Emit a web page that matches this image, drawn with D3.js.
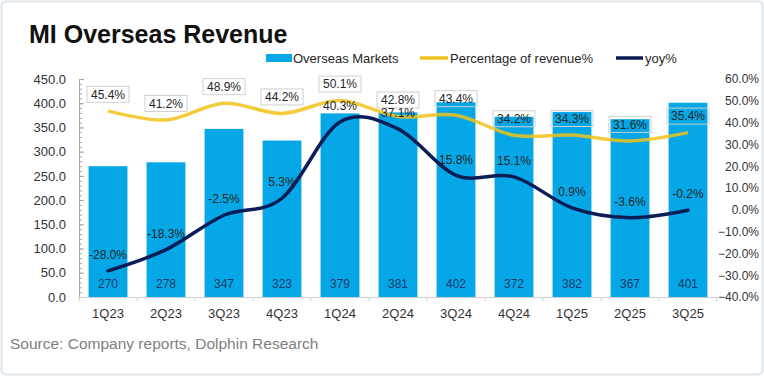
<!DOCTYPE html>
<html>
<head>
<meta charset="utf-8">
<script src="https://cdn.jsdelivr.net/npm/d3@7"></script>
<style>
  html, body { margin: 0; padding: 0; background: #ffffff; }
  svg { display: block; font-family: "Liberation Sans", Arial, sans-serif; }
</style>
</head>
<body>
<svg id="chart" width="764" height="376"></svg>
<script>
const categories = ["1Q23","2Q23","3Q23","4Q23","1Q24","2Q24","3Q24","4Q24","1Q25","2Q25","3Q25"];
const overseasRevenue = [270, 278, 347, 323, 379, 381, 402, 372, 382, 367, 401];
const revenueShare = [45.4, 41.2, 48.9, 44.2, 50.1, 42.8, 43.4, 34.2, 34.3, 31.6, 35.4];
const yoyGrowth = [-28.0, -18.3, -2.5, 5.3, 40.3, 37.1, 15.8, 15.1, 0.9, -3.6, -0.2];
const leftTicks = [0, 50, 100, 150, 200, 250, 300, 350, 400, 450];
const rightTicks = [-40, -30, -20, -10, 0, 10, 20, 30, 40, 50, 60];
const seriesNames = ["Overseas Markets", "Percentage of revenue%", "yoy%"];

const colors = { bar: "#05a7e6", share: "#f1c21b", yoy: "#0b1d57", text: "#262626", barText: "#1c3a6c", axis: "#bfbfbf", tick: "#333333" };

const svg = d3.select("#chart");
const W = 764, H = 376;
const plot = { left: 79, right: 717, top: 79, bottom: 297 };

// frame
svg.append("rect").attr("x", 1.5).attr("y", 1.5).attr("width", W - 3).attr("height", H - 3)
  .attr("rx", 4).attr("fill", "#ffffff").attr("stroke", "#dfe6eb").attr("stroke-width", 2);

const x = d3.scaleBand().domain(categories).range([plot.left, plot.right])
  .paddingInner(0.33).paddingOuter(0.165);
const yL = d3.scaleLinear().domain([0, 450]).range([plot.bottom, plot.top]);
const yR = d3.scaleLinear().domain([-40, 60]).range([plot.bottom, plot.top]);

// title
svg.append("text").attr("x", 29).attr("y", 43).attr("font-size", 25).attr("font-weight", "bold")
  .attr("fill", "#111111").text("MI Overseas Revenue");

// legend
const lg = svg.append("g").attr("font-size", 13).attr("fill", "#262626");
lg.append("rect").attr("x", 266).attr("y", 54).attr("width", 26).attr("height", 8).attr("fill", colors.bar);
lg.append("text").attr("x", 293).attr("y", 62.5).text(seriesNames[0]);
lg.append("line").attr("x1", 420).attr("x2", 448).attr("y1", 58).attr("y2", 58)
  .attr("stroke", colors.share).attr("stroke-width", 3.5);
lg.append("text").attr("x", 450).attr("y", 62.5).text(seriesNames[1]);
lg.append("line").attr("x1", 616).attr("x2", 643).attr("y1", 58).attr("y2", 58)
  .attr("stroke", colors.yoy).attr("stroke-width", 3.5);
lg.append("text").attr("x", 645).attr("y", 62.5).text(seriesNames[2]);

// left axis minor ticks
const minorVals = d3.range(0, 451, 10);
const minorAxis = svg.append("g").attr("transform", `translate(${plot.left},0)`)
  .call(d3.axisLeft(yL).tickValues(minorVals).tickSizeInner(-3).tickSizeOuter(0).tickFormat(""));
minorAxis.selectAll("line").attr("stroke", "#a6a6a6");
minorAxis.select(".domain").remove();

// left axis
const leftAxis = svg.append("g").attr("transform", `translate(${plot.left},0)`)
  .call(d3.axisLeft(yL).tickValues(leftTicks).tickSizeInner(-5).tickSizeOuter(0).tickPadding(13)
    .tickFormat(d3.format(".1f")));
leftAxis.select(".domain").attr("stroke", "#a6a6a6");
leftAxis.selectAll("line").attr("stroke", "#a6a6a6");
leftAxis.selectAll("text").attr("font-size", 13).attr("fill", colors.tick)
  .attr("font-family", "'Liberation Sans', Arial, sans-serif");

// right axis
const rightAxis = svg.append("g").attr("transform", `translate(${plot.right},0)`)
  .call(d3.axisRight(yR).tickValues(rightTicks).tickSize(0).tickPadding(0)
    .tickFormat(d => d3.format(".1f")(d) + "%"));
rightAxis.select(".domain").remove();
rightAxis.selectAll("text").attr("font-size", 12).attr("fill", colors.tick)
  .attr("text-anchor", "end").attr("x", 759 - plot.right)
  .attr("font-family", "'Liberation Sans', Arial, sans-serif");

// bars
svg.append("g").selectAll("rect").data(categories).join("rect")
  .attr("x", d => x(d)).attr("width", x.bandwidth())
  .attr("y", (d, i) => yL(overseasRevenue[i]))
  .attr("height", (d, i) => yL(0) - yL(overseasRevenue[i]))
  .attr("fill", colors.bar);

// x axis
const xAxis = svg.append("g").attr("transform", `translate(0,${plot.bottom})`)
  .call(d3.axisBottom(x).tickSize(0).tickPadding(12));
xAxis.select(".domain").attr("stroke", "#d0d0d0");
xAxis.selectAll("text").attr("font-size", 13).attr("fill", colors.tick)
  .attr("font-family", "'Liberation Sans', Arial, sans-serif");
const step = x.step();
const edges = d3.range(categories.length + 1).map(i => plot.left + i * step);
svg.append("g").selectAll("line").data(edges).join("line")
  .attr("x1", d => d).attr("x2", d => d).attr("y1", plot.bottom).attr("y2", plot.bottom + 4)
  .attr("stroke", "#d0d0d0");

const cx = d => x(d) + x.bandwidth() / 2;
const curve = d3.curveCardinal.tension(0);

// share line
const shareLine = d3.line().x((d, i) => cx(categories[i])).y(d => yR(d)).curve(curve);
svg.append("path").datum(revenueShare).attr("d", shareLine)
  .attr("fill", "none").attr("stroke", colors.share).attr("stroke-width", 3.5)
  .attr("stroke-opacity", 0.85);

// yoy line
const yoyLine = d3.line().x((d, i) => cx(categories[i])).y(d => yR(d)).curve(curve);
svg.append("path").datum(yoyGrowth).attr("d", yoyLine)
  .attr("fill", "none").attr("stroke", colors.yoy).attr("stroke-width", 3.5)
  .attr("stroke-linecap", "round");

// bar labels
svg.append("g").selectAll("text").data(categories).join("text")
  .attr("x", d => cx(d)).attr("y", plot.bottom - 13).attr("dy", "0.35em")
  .attr("text-anchor", "middle").attr("font-size", 12).attr("fill", colors.barText)
  .text((d, i) => overseasRevenue[i]);

// share labels with boxes
const sg = svg.append("g");
categories.forEach((c, i) => {
  const g = sg.append("g");
  const ty = yR(revenueShare[i]) - 16.5;
  const t = g.append("text").attr("x", cx(c)).attr("y", ty).attr("dy", "0.35em")
    .attr("text-anchor", "middle").attr("font-size", 12).attr("fill", colors.text)
    .text(revenueShare[i].toFixed(1) + "%");
  const w = t.node().getComputedTextLength() + 8;
  g.insert("rect", "text").attr("x", cx(c) - w / 2).attr("y", ty - 8).attr("width", w).attr("height", 16)
    .attr("fill", "none").attr("stroke", "#cfcfcf").attr("stroke-width", 1);
});

// yoy labels
svg.append("g").selectAll("text").data(categories).join("text")
  .attr("x", d => cx(d)).attr("y", (d, i) => yR(yoyGrowth[i]) - 16).attr("dy", "0.35em")
  .attr("text-anchor", "middle").attr("font-size", 12).attr("fill", colors.text)
  .text((d, i) => yoyGrowth[i].toFixed(1) + "%");

// source
svg.append("text").attr("x", 10).attr("y", 349).attr("font-size", 15.5).attr("fill", "#808080")
  .text("Source: Company reports, Dolphin Research");
</script>
</body>
</html>
